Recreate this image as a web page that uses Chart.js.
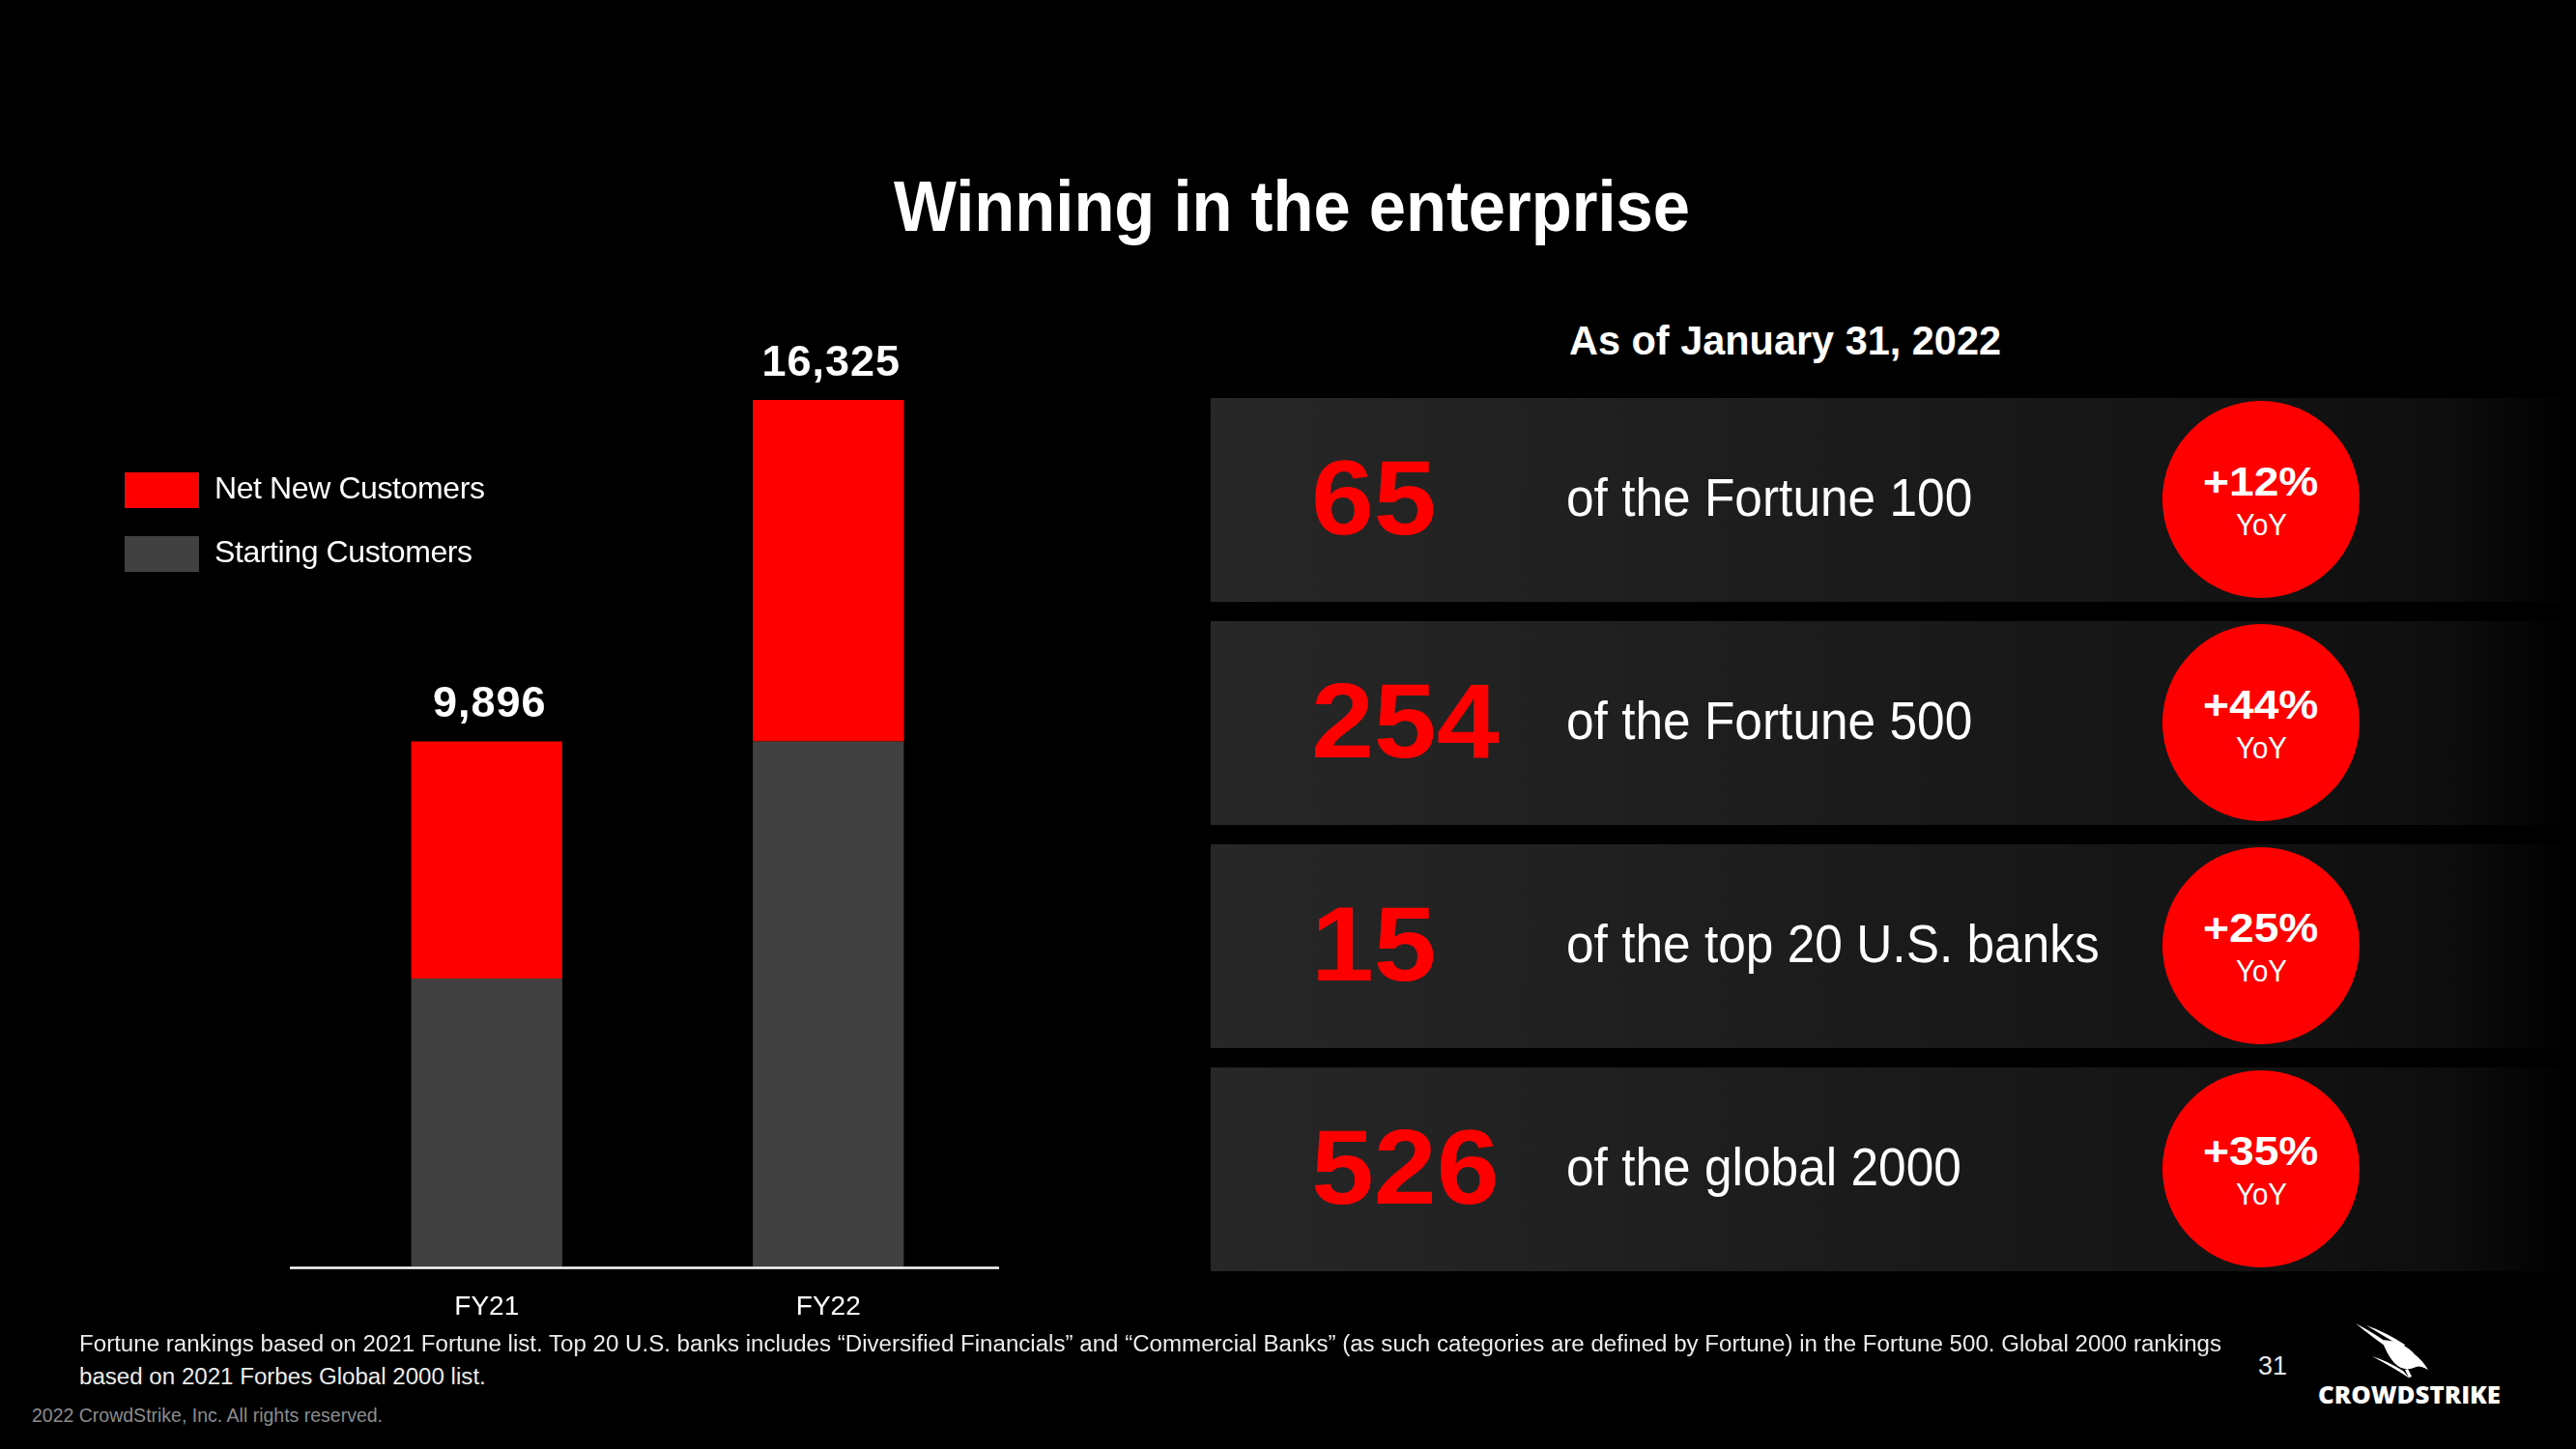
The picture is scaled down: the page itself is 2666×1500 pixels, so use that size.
<!DOCTYPE html>
<html><head><meta charset="utf-8">
<script src="https://cdn.jsdelivr.net/npm/chart.js@4.4.0/dist/chart.umd.min.js"></script>
<style>
html,body{margin:0;padding:0;background:#000;width:2666px;height:1500px;overflow:hidden;font-family:"Liberation Sans",Arial,sans-serif;color:#fff;}
.abs{position:absolute;white-space:nowrap;}
#chartCanvas{position:absolute;left:0;top:0;}
.row{position:absolute;left:1253px;width:1413px;height:211px;background:linear-gradient(to right,#272727 0%,#1d1d1d 40%,#151515 70%,#0e0e0e 90%,#000 100%);}
.circle{position:absolute;left:2238px;width:204px;height:204px;border-radius:50%;background:#ff0000;}
</style></head>
<body>
<canvas id="chartCanvas" width="1150" height="1400"></canvas>
<svg class="abs" style="left:2437px;top:1368px" width="82" height="64" viewBox="0 0 82 64">
  <path fill="#fff" d="M1,2 Q20,18 44,34 L46,31 Q24,14 1,2 Z"/>
  <path fill="#fff" d="M12,4 Q30,15 50,27 L52,24 Q32,11 12,4 Z"/>
  <path fill="#fff" d="M28,19 Q50,20 62,34 Q70,40 76,50 L72,48 Q66,45 61,48 Q50,52 41,43 Q33,34 28,19 Z"/>
  <path fill="#fff" d="M18,36 Q34,41 50,51 L57,59 Q44,50 18,36 Z"/>
  <path fill="#fff" d="M52,50 L56,58 L59,57 L55,49 Z"/>
</svg>
<script>
// ---- chart data ----
const categories = ['FY21', 'FY22'];
const startingCustomers = [5431, 9896];
const netNewCustomers = [4465, 6429];
const seriesNames = ['Starting Customers', 'Net New Customers'];
const seriesColors = ['#414141', '#ff0000'];

// ---- right panel data ----
const panelCounts = ['65', '254', '15', '526'];
const panelLabels = ['of the Fortune 100', 'of the Fortune 500', 'of the top 20 U.S. banks', 'of the global 2000'];
const panelGrowth = ['+12%', '+44%', '+25%', '+35%'];

function txt(str, o) {
  const d = document.createElement('div');
  d.className = 'abs';
  d.textContent = str;
  d.style.fontSize = o.size + 'px';
  d.style.lineHeight = o.size + 'px';
  d.style.fontWeight = o.weight || 400;
  d.style.color = o.color || '#fff';
  if (o.family) d.style.fontFamily = o.family;
  const capOff = o.capOff !== undefined ? o.capOff : 0.1305;
  d.style.top = (o.capTop - capOff * o.size) + 'px';
  document.body.appendChild(d);
  const w = d.getBoundingClientRect().width;
  const sx = o.scale || (o.width ? o.width / w : 1);
  const left = o.center !== undefined ? o.center - w * sx / 2 : o.left;
  d.style.left = left + 'px';
  d.style.transformOrigin = 'left top';
  d.style.transform = 'scaleX(' + sx + ')';
  return sx;
}

// Title & subtitle
txt('Winning in the enterprise', {left: 925, width: 824, capTop: 187, size: 74, weight: 700});
txt('As of January 31, 2022', {left: 1624, width: 447, capTop: 337, size: 42, weight: 700});

// Rows
for (let i = 0; i < panelCounts.length; i++) {
  const top = 412 + i * 231;
  const r = document.createElement('div');
  r.className = 'row'; r.style.top = top + 'px';
  document.body.appendChild(r);
  const c = document.createElement('div');
  c.className = 'circle'; c.style.top = (top + 3) + 'px';
  document.body.appendChild(c);
  txt(panelCounts[i], {left: 1357, scale: 1.07, capTop: top + 63, size: 109, weight: 700, color: '#ff0000'});
  txt(panelLabels[i], {left: 1621, scale: 0.935, capTop: top + 83, size: 55});
  txt(panelGrowth[i], {center: 2340, scale: 1.1, capTop: top + 71, size: 42, weight: 700});
  txt('YoY', {center: 2340, scale: 0.95, capTop: top + 120, size: 31});
}

// Footnotes
const fs = txt('Fortune rankings based on 2021 Fortune list. Top 20 U.S. banks includes \u201cDiversified Financials\u201d and \u201cCommercial Banks\u201d (as such categories are defined by Fortune) in the Fortune 500. Global 2000 rankings',
  {left: 82, width: 2217, capTop: 1383, size: 23, color: '#ececec'});
txt('based on 2021 Forbes Global 2000 list.', {left: 82, scale: fs, capTop: 1417, size: 23, color: '#ececec'});
txt('2022 CrowdStrike, Inc. All rights reserved.', {left: 33, width: 363, capTop: 1458, size: 20, color: '#8c8c8c'});
txt('31', {left: 2337, capTop: 1405, size: 27, color: '#e6e6e6'});
txt('CROWDSTRIKE', {left: 2399, width: 189, capTop: 1436, size: 24, weight: 800, family: '"Open Sans", sans-serif', capOff: 0.174});

// ---- Chart ----
const baselinePlugin = {
  id: 'baseline',
  afterDatasetsDraw(chart) {
    const {ctx, chartArea, scales} = chart;
    const y = scales.y.getPixelForValue(0);
    ctx.save();
    ctx.strokeStyle = '#ffffff';
    ctx.lineWidth = 2.5;
    ctx.beginPath();
    ctx.moveTo(chartArea.left - 27, y + 1);
    ctx.lineTo(chartArea.right, y + 1);
    ctx.stroke();
    ctx.restore();
  }
};
const totalsPlugin = {
  id: 'totals',
  afterDatasetsDraw(chart) {
    const {ctx} = chart;
    const n = chart.data.labels.length;
    const lastMeta = chart.getDatasetMeta(chart.data.datasets.length - 1);
    ctx.save();
    ctx.fillStyle = '#ffffff';
    ctx.font = 'bold 45px "Liberation Sans", Arial, sans-serif';
    if ('letterSpacing' in ctx) ctx.letterSpacing = '1px';
    ctx.textAlign = 'center';
    ctx.textBaseline = 'alphabetic';
    for (let i = 0; i < n; i++) {
      let total = 0;
      chart.data.datasets.forEach(ds => total += ds.data[i]);
      const bar = lastMeta.data[i];
      ctx.fillText(total.toLocaleString('en-US'), bar.x + 3, bar.y - 25);
    }
    ctx.restore();
  }
};
const legendPlugin = {
  id: 'customLegend',
  afterDraw(chart) {
    const {ctx} = chart;
    const ds = chart.data.datasets.slice().reverse();
    ctx.save();
    ctx.font = '32px "Liberation Sans", Arial, sans-serif';
    if ('letterSpacing' in ctx) ctx.letterSpacing = '-0.4px';
    ctx.textBaseline = 'middle';
    ds.forEach((d, k) => {
      const y = 489 + k * 66;
      ctx.fillStyle = d.backgroundColor;
      ctx.fillRect(129, y, 77, 37);
      ctx.fillStyle = '#ffffff';
      ctx.fillText(d.label, 222, y + 18);
    });
    ctx.restore();
  }
};

new Chart(document.getElementById('chartCanvas'), {
  type: 'bar',
  data: {
    labels: categories,
    datasets: [
      {label: seriesNames[0], data: startingCustomers, backgroundColor: seriesColors[0]},
      {label: seriesNames[1], data: netNewCustomers, backgroundColor: seriesColors[1]}
    ]
  },
  options: {
    responsive: false,
    animation: false,
    devicePixelRatio: 1,
    layout: {padding: {left: 327, right: 116, top: 377, bottom: 5}},
    datasets: {bar: {barPercentage: 0.442, categoryPercentage: 1, borderWidth: 0}},
    plugins: {legend: {display: false}, tooltip: {enabled: false}},
    scales: {
      x: {
        stacked: true,
        grid: {display: false, drawTicks: false},
        border: {display: false},
        ticks: {color: '#ffffff', padding: 25, font: {size: 28, family: '"Liberation Sans", Arial, sans-serif'}}
      },
      y: {stacked: true, display: false, min: 0, max: 17000}
    }
  },
  plugins: [baselinePlugin, totalsPlugin, legendPlugin]
});
</script>
</body></html>
